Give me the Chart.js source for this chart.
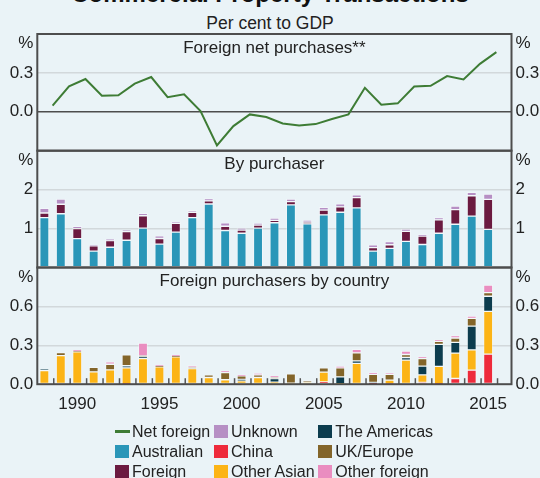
<!DOCTYPE html>
<html>
<head>
<meta charset="utf-8">
<script src="https://cdn.jsdelivr.net/npm/chart.js@4.4.1/dist/chart.umd.min.js"></script>
<style>
  body { margin: 0; background: #eaf3f7; font-family: "Liberation Sans", Arial, sans-serif; }
  #wrap { position: relative; width: 540px; height: 478px; overflow: hidden; }
  #wrap canvas { position: absolute; left: 0; top: 0; }
  #title { position: absolute; left: 0; width: 540px; top: -18px; text-align: center;
           font-weight: bold; font-size: 24px; line-height: 24px; color: #111; }
  #subtitle { position: absolute; left: 0; width: 540px; top: 13px; text-align: center;
              font-size: 17.5px; line-height: 20px; color: #222; }
  .lg { position: absolute; height: 20px; display: flex; align-items: center;
        font-size: 16px; color: #222; white-space: nowrap; }
  .sw { width: 14px; height: 13px; margin-right: 3px; }
  .ln { width: 15px; height: 2.5px; margin-right: 2px; }
</style>
</head>
<body>
<div id="wrap">
  <div id="title">Commercial Property Transactions</div>
  <div id="subtitle">Per cent to GDP</div>
  <canvas id="netChart" width="540" height="478"></canvas>
  <canvas id="purchaserChart" width="540" height="478"></canvas>
  <canvas id="countryChart" width="540" height="478"></canvas>
  <div id="legend"></div>
</div>
<script>
// ---------- DATA (per cent to GDP)
var years = [1988, 1989, 1990, 1991, 1992, 1993, 1994, 1995, 1996, 1997,
             1998, 1999, 2000, 2001, 2002, 2003, 2004, 2005, 2006, 2007,
             2008, 2009, 2010, 2011, 2012, 2013, 2014, 2015];
var xLabelYears = [1990, 1995, 2000, 2005, 2010, 2015];

// foreign net purchases (line)
var netForeign = [0.047, 0.196, 0.253, 0.124, 0.127, 0.217, 0.268, 0.113, 0.135, 0.005,
                  -0.26, -0.11, -0.02, -0.04, -0.09, -0.105, -0.095, -0.055, -0.02, 0.185,
                  0.055, 0.065, 0.195, 0.2, 0.275, 0.25, 0.37, 0.46];

// by purchaser
var australian = [1.28, 1.38, 0.74, 0.42, 0.52, 0.70, 1.01, 0.60, 0.91, 1.28,
                  1.63, 0.95, 0.88, 1.01, 1.15, 1.61, 1.12, 1.35, 1.42, 1.53,
                  0.42, 0.49, 0.67, 0.59, 0.88, 1.11, 1.32, 0.98];
var foreign    = [0.12, 0.245, 0.26, 0.135, 0.17, 0.225, 0.32, 0.145, 0.225, 0.14,
                  0.08, 0.11, 0.08, 0.08, 0.062, 0.08, 0.045, 0.125, 0.138, 0.265,
                  0.09, 0.095, 0.257, 0.215, 0.342, 0.378, 0.523, 0.768];
var unknown    = [0.12, 0.13, 0.06, 0.02, 0.04, 0.04, 0.06, 0.07, 0.04, 0.05,
                  0.06, 0.09, 0.05, 0.05, 0.06, 0.07, 0.05, 0.07, 0.08, 0.07,
                  0.07, 0.08, 0.06, 0.04, 0.06, 0.09, 0.09, 0.14];

// foreign purchasers by country
var china        = [0, 0, 0, 0, 0, 0.003, 0, 0, 0, 0,
                    0, 0, 0, 0, 0, 0, 0, 0.018, 0, 0,
                    0.003, 0.005, 0, 0.013, 0.003, 0.044, 0.108, 0.232];
var otherAsian   = [0.105, 0.22, 0.25, 0.095, 0.11, 0.123, 0.198, 0.134, 0.211, 0.121,
                    0.052, 0.034, 0.026, 0.052, 0.015, 0.008, 0.013, 0.075, 0.003, 0.16,
                    0, 0.026, 0.186, 0.059, 0.134, 0.196, 0.157, 0.33];
var americas     = [0.013, 0, 0, 0, 0, 0.016, 0.016, 0, 0, 0,
                    0, 0, 0.01, 0, 0.029, 0, 0, 0, 0.054, 0.02,
                    0.01, 0, 0.02, 0.067, 0.17, 0.082, 0.183, 0.116];
var ukEurope     = [0, 0.023, 0.004, 0.036, 0.044, 0.085, 0.005, 0.008, 0.006, 0.008,
                    0.02, 0.056, 0.028, 0.02, 0.008, 0.072, 0.015, 0.033, 0.069, 0.062,
                    0.064, 0.046, 0.023, 0.059, 0.023, 0.034, 0.06, 0.028];
var otherForeign = [0, 0, 0.01, 0, 0.018, 0, 0.098, 0.007, 0.01, 0.015,
                    0, 0.013, 0.008, 0.013, 0.012, 0, 0, 0, 0.011, 0.026,
                    0.013, 0.011, 0.026, 0.013, 0.013, 0.018, 0.018, 0.059];

// ---------- STYLE
var FONT = '"Liberation Sans", Arial, sans-serif';
var colors = {
    'Net foreign':   '#3e7c35',
    'Australian':    '#2a96b8',
    'Foreign':       '#6b1a40',
    'Unknown':       '#b68fc4',
    'China':         '#ee2a3b',
    'Other Asian':   '#fcb416',
    'The Americas':  '#0c3c4e',
    'UK/Europe':     '#83652a',
    'Other foreign': '#ea8dc0'
};
var FRAME = '#4d4d4d';
var GRID = '#d2d8db';
var LEFT_W = 37.3, RIGHT_W = 28.5;
var X_MIN = 1987.57, X_MAX = 2016.42;
var X_AXIS_H = 30;

Chart.defaults.font.family = FONT;
Chart.defaults.font.size = 17;
Chart.defaults.color = '#222';

function near(a, b) { return Math.abs(a - b) < 1e-6; }

function barSet(name, arr) {
    return {
        type: 'bar',
        label: name,
        data: years.map(function (y, i) { return { x: y, y: arr[i] }; }),
        backgroundColor: colors[name],
        borderColor: 'rgba(255,255,255,0.35)',
        borderWidth: 1,
        borderSkipped: false,
        barThickness: 9.2,
        stack: 'all'
    };
}

// frame, panel title, % labels and the little year ticks
function panelDecor(title, drawYearTicks) {
    return {
        id: 'panelDecor',
        afterDatasetsDraw: function (chart) {
            var a = chart.chartArea, ctx = chart.ctx, xs = chart.scales.x;
            ctx.save();
            if (drawYearTicks) {
                ctx.strokeStyle = '#555';
                ctx.lineWidth = 1.5;
                years.forEach(function (y) {
                    var px = xs.getPixelForValue(y + 0.57);
                    ctx.beginPath();
                    ctx.moveTo(px, a.bottom);
                    ctx.lineTo(px, a.bottom - 6);
                    ctx.stroke();
                });
            }
            ctx.strokeStyle = FRAME;
            ctx.lineWidth = 2;
            ctx.strokeRect(a.left, a.top, a.right - a.left, a.bottom - a.top);
            ctx.fillStyle = '#222';
            ctx.font = '17px ' + FONT;
            ctx.textBaseline = 'middle';
            ctx.textAlign = 'center';
            ctx.fillText(title, (a.left + a.right) / 2, a.top + 14);
            ctx.textAlign = 'right';
            ctx.fillText('%', a.left - 4, a.top + 9.5);
            ctx.textAlign = 'left';
            ctx.fillText('%', a.right + 4, a.top + 9.5);
            ctx.restore();
        }
    };
}

function makePanel(id, datasets, yMin, yMax, step, decimals, top, bottom, title, showX) {
    var tickLabel = function (v) {
        if (near(v, yMax)) return '';
        if (near(v, yMin) && !showX) return '';
        return Number(v).toFixed(decimals);
    };
    var yTicks = { stepSize: step, padding: 4, callback: tickLabel };
    return new Chart(document.getElementById(id), {
        type: 'bar',
        data: { datasets: datasets },
        options: {
            responsive: false,
            animation: false,
            events: [],
            layout: { padding: { top: top, bottom: 478 - bottom - (showX ? X_AXIS_H : 0), left: 0, right: 0 } },
            plugins: { legend: { display: false }, tooltip: { enabled: false } },
            scales: {
                x: {
                    type: 'linear', min: X_MIN, max: X_MAX, offset: false,
                    display: showX,
                    grid: { display: false, drawTicks: false, offset: false },
                    border: { display: false },
                    ticks: { padding: 10, maxRotation: 0, callback: function (v) { return String(v); } },
                    afterBuildTicks: function (s) {
                        s.ticks = xLabelYears.map(function (v) { return { value: v }; });
                    },
                    afterFit: function (s) { if (showX) { s.height = X_AXIS_H; } }
                },
                y: {
                    position: 'left', min: yMin, max: yMax, stacked: true,
                    ticks: yTicks,
                    border: { display: false },
                    grid: {
                        drawTicks: false,
                        color: function (c) {
                            var v = c.tick.value;
                            if (near(v, yMin) || near(v, yMax)) return 'rgba(0,0,0,0)';
                            if (near(v, 0)) return FRAME;
                            return GRID;
                        },
                        lineWidth: 1.6
                    },
                    afterFit: function (s) { s.width = LEFT_W; }
                },
                yRight: {
                    position: 'right', min: yMin, max: yMax,
                    ticks: yTicks,
                    border: { display: false },
                    grid: { display: false, drawTicks: false },
                    afterFit: function (s) { s.width = RIGHT_W; }
                }
            }
        },
        plugins: [panelDecor(title, showX)]
    });
}

// ---------- PANEL 1: foreign net purchases
makePanel('netChart', [{
    type: 'line',
    label: 'Net foreign',
    data: years.map(function (y, i) { return { x: y + 0.5, y: netForeign[i] }; }),
    borderColor: colors['Net foreign'],
    borderWidth: 2,
    pointRadius: 0,
    tension: 0
}], -0.3, 0.6, 0.3, 1, 34, 150.7, 'Foreign net purchases**', false);

// ---------- PANEL 2: by purchaser
makePanel('purchaserChart', [
    barSet('Australian', australian),
    barSet('Foreign', foreign),
    barSet('Unknown', unknown)
], 0, 3, 1, 0, 150.7, 267.5, 'By purchaser', false);

// ---------- PANEL 3: foreign purchasers by country
makePanel('countryChart', [
    barSet('China', china),
    barSet('Other Asian', otherAsian),
    barSet('The Americas', americas),
    barSet('UK/Europe', ukEurope),
    barSet('Other foreign', otherForeign)
], 0, 0.9, 0.3, 1, 267.5, 384.2, 'Foreign purchasers by country', true);

// ---------- LEGEND (three columns, filled top to bottom)
var legendColumns = [
    ['Net foreign', 'Australian', 'Foreign'],
    ['Unknown', 'China', 'Other Asian'],
    ['The Americas', 'UK/Europe', 'Other foreign']
];
var colLeft = [115, 214, 318.3];
var rowMid = [431.7, 451.7, 471.7];
var lg = document.getElementById('legend');
legendColumns.forEach(function (col, c) {
    col.forEach(function (name, r) {
        var item = document.createElement('div');
        item.className = 'lg';
        item.style.left = colLeft[c] + 'px';
        item.style.top = (rowMid[r] - 10) + 'px';
        var mark = document.createElement('span');
        mark.className = name === 'Net foreign' ? 'ln' : 'sw';
        mark.style.background = colors[name];
        item.appendChild(mark);
        item.appendChild(document.createTextNode(name));
        lg.appendChild(item);
    });
});
</script>
</body>
</html>
